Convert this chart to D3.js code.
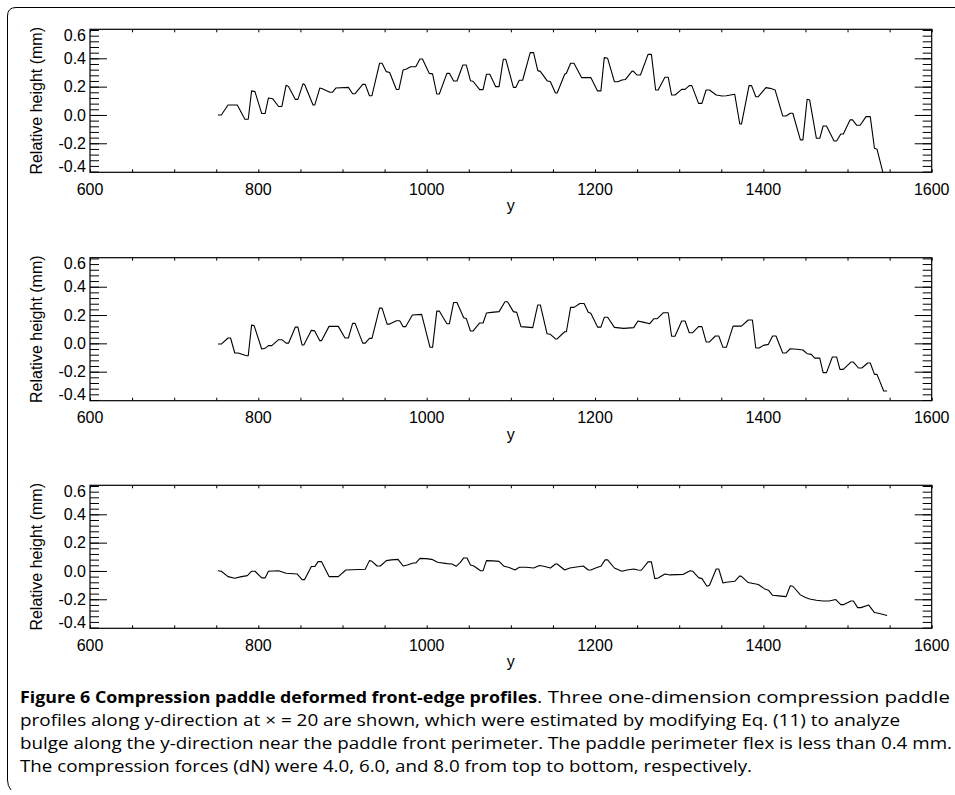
<!DOCTYPE html>
<html>
<head>
<meta charset="utf-8">
<script src="https://cdn.jsdelivr.net/npm/d3@7"></script>
<style>
  body { margin: 0; background: #fff; }
  text { fill: #000; }
</style>
</head>
<body>
<svg id="fig" width="955" height="795"></svg>
<script>
// Profiles: [y position, relative height (mm)]
const profile4dN = [[752,0.000],[756,0.000],[764,0.070],[775,0.070],[784,-0.030],[788,-0.030],[792,0.170],[796,0.165],[804,0.010],[808,0.010],[812,0.120],[817,0.115],[824,0.060],[828,0.060],[833,0.210],[836,0.200],[844,0.110],[847,0.110],[853,0.220],[855,0.215],[865,0.070],[867,0.070],[873,0.190],[876,0.185],[885,0.160],[888,0.160],[892,0.190],[907,0.195],[912,0.150],[915,0.150],[924,0.216],[927,0.216],[932,0.136],[935,0.136],[944,0.365],[947,0.365],[952,0.306],[956,0.300],[964,0.180],[967,0.180],[972,0.318],[976,0.325],[981,0.340],[987,0.340],[992,0.395],[995,0.395],[1003,0.294],[1007,0.290],[1012,0.148],[1015,0.148],[1024,0.294],[1027,0.294],[1032,0.240],[1036,0.240],[1043,0.353],[1047,0.353],[1052,0.242],[1055,0.238],[1063,0.179],[1067,0.179],[1071,0.287],[1075,0.287],[1082,0.200],[1086,0.200],[1091,0.393],[1094,0.393],[1103,0.195],[1106,0.195],[1110,0.245],[1114,0.245],[1123,0.440],[1127,0.440],[1132,0.313],[1135,0.308],[1143,0.242],[1147,0.235],[1153,0.155],[1155,0.155],[1164,0.287],[1166,0.294],[1171,0.365],[1175,0.365],[1184,0.264],[1195,0.264],[1203,0.170],[1207,0.170],[1211,0.405],[1215,0.400],[1223,0.235],[1227,0.235],[1232,0.247],[1236,0.250],[1244,0.310],[1246,0.306],[1250,0.282],[1254,0.282],[1263,0.428],[1267,0.428],[1272,0.176],[1275,0.176],[1283,0.266],[1287,0.266],[1291,0.141],[1295,0.141],[1303,0.181],[1307,0.181],[1312,0.207],[1315,0.207],[1323,0.082],[1327,0.082],[1332,0.176],[1336,0.176],[1344,0.141],[1351,0.134],[1356,0.136],[1366,0.146],[1372,-0.064],[1374,-0.064],[1383,0.207],[1386,0.207],[1391,0.129],[1394,0.129],[1403,0.193],[1408,0.188],[1414,0.176],[1423,-0.007],[1427,-0.007],[1432,0.012],[1435,0.012],[1444,-0.176],[1447,-0.176],[1452,0.111],[1455,0.106],[1463,-0.165],[1467,-0.165],[1471,-0.078],[1475,-0.078],[1484,-0.184],[1487,-0.184],[1492,-0.134],[1495,-0.134],[1503,-0.035],[1506,-0.035],[1511,-0.073],[1515,-0.073],[1522,-0.012],[1527,-0.012],[1532,-0.235],[1535,-0.242],[1542,-0.405],[1547,-0.500]];

const profile6dN = [[752,-0.005],[756,-0.005],[764,0.038],[767,0.038],[772,-0.068],[776,-0.068],[786,-0.087],[788,-0.087],[792,0.129],[795,0.125],[804,-0.040],[808,-0.035],[812,-0.016],[816,-0.016],[824,0.026],[828,0.026],[833,0.002],[836,0.002],[844,0.115],[847,0.115],[852,-0.012],[854,-0.012],[863,0.092],[867,0.088],[873,0.019],[875,0.019],[884,0.120],[895,0.120],[903,0.038],[907,0.038],[912,0.141],[915,0.141],[924,0.002],[927,0.002],[932,0.035],[935,0.035],[944,0.249],[947,0.249],[953,0.136],[956,0.136],[964,0.160],[968,0.160],[972,0.118],[975,0.118],[983,0.200],[994,0.205],[1004,-0.028],[1007,-0.028],[1012,0.228],[1015,0.228],[1024,0.139],[1027,0.139],[1032,0.289],[1036,0.289],[1044,0.181],[1047,0.176],[1052,0.087],[1055,0.087],[1063,0.144],[1067,0.144],[1071,0.214],[1077,0.219],[1086,0.224],[1093,0.294],[1096,0.294],[1103,0.224],[1107,0.219],[1112,0.118],[1126,0.111],[1132,0.271],[1135,0.271],[1143,0.068],[1147,0.064],[1153,0.031],[1155,0.031],[1164,0.082],[1166,0.082],[1171,0.254],[1175,0.254],[1182,0.282],[1187,0.282],[1192,0.219],[1195,0.212],[1203,0.115],[1207,0.115],[1211,0.184],[1215,0.184],[1223,0.113],[1234,0.106],[1246,0.111],[1251,0.158],[1257,0.150],[1265,0.139],[1270,0.174],[1274,0.174],[1281,0.216],[1287,0.216],[1291,0.050],[1295,0.050],[1303,0.158],[1307,0.158],[1312,0.075],[1316,0.075],[1323,0.118],[1327,0.118],[1332,0.010],[1336,0.010],[1343,0.052],[1347,0.052],[1352,-0.028],[1356,-0.028],[1364,0.122],[1374,0.122],[1382,0.165],[1387,0.165],[1391,-0.033],[1395,-0.033],[1400,-0.014],[1406,-0.007],[1411,0.052],[1415,0.052],[1423,-0.068],[1427,-0.068],[1432,-0.038],[1440,-0.042],[1447,-0.047],[1452,-0.073],[1457,-0.078],[1461,-0.104],[1467,-0.104],[1471,-0.207],[1475,-0.207],[1482,-0.096],[1487,-0.096],[1491,-0.184],[1495,-0.184],[1504,-0.132],[1507,-0.132],[1513,-0.174],[1517,-0.174],[1524,-0.139],[1527,-0.139],[1532,-0.219],[1535,-0.219],[1543,-0.337],[1547,-0.337]];

const profile8dN = [[752,0.002],[756,-0.002],[764,-0.040],[772,-0.052],[780,-0.040],[787,-0.033],[792,-0.002],[796,-0.002],[804,-0.049],[808,-0.049],[812,-0.002],[824,0.002],[833,-0.016],[846,-0.021],[852,-0.061],[855,-0.061],[863,0.031],[867,0.031],[871,0.066],[875,0.066],[884,-0.040],[895,-0.040],[904,0.007],[927,0.012],[932,0.073],[935,0.068],[941,0.035],[945,0.035],[952,0.073],[958,0.078],[966,0.082],[972,0.035],[977,0.042],[984,0.056],[987,0.056],[992,0.089],[999,0.087],[1006,0.082],[1013,0.061],[1024,0.052],[1030,0.049],[1035,0.033],[1040,0.061],[1044,0.092],[1048,0.092],[1052,0.042],[1056,0.035],[1064,0.002],[1067,0.002],[1071,0.073],[1079,0.071],[1086,0.068],[1092,0.033],[1098,0.024],[1105,0.007],[1110,0.026],[1118,0.026],[1127,0.021],[1134,0.038],[1139,0.033],[1147,0.021],[1153,0.049],[1155,0.049],[1164,0.007],[1170,0.021],[1178,0.028],[1186,0.035],[1192,0.007],[1195,0.007],[1203,0.026],[1207,0.033],[1212,0.078],[1215,0.078],[1223,0.021],[1232,-0.002],[1238,0.007],[1246,0.014],[1251,0.007],[1255,0.005],[1263,0.064],[1267,0.064],[1271,-0.054],[1275,-0.050],[1283,-0.021],[1289,-0.028],[1297,-0.026],[1305,-0.024],[1313,0.002],[1316,-0.002],[1323,-0.047],[1327,-0.054],[1333,-0.108],[1336,-0.101],[1344,0.014],[1347,0.014],[1352,-0.085],[1356,-0.080],[1366,-0.073],[1372,-0.035],[1374,-0.038],[1382,-0.082],[1388,-0.089],[1394,-0.096],[1401,-0.125],[1406,-0.136],[1411,-0.172],[1418,-0.176],[1427,-0.181],[1432,-0.104],[1435,-0.108],[1444,-0.169],[1450,-0.188],[1455,-0.198],[1463,-0.207],[1471,-0.212],[1478,-0.212],[1486,-0.202],[1492,-0.238],[1495,-0.238],[1504,-0.212],[1507,-0.212],[1512,-0.259],[1516,-0.259],[1525,-0.240],[1532,-0.294],[1538,-0.301],[1547,-0.315]];

const profiles = [profile4dN, profile6dN, profile8dN];

const xDomain = [600, 1600];
const yDomain = [-0.405, 0.605];
const xTickLabels = [600, 800, 1000, 1200, 1400, 1600];
const yTickLabels = [-0.4, -0.2, 0.0, 0.2, 0.4, 0.6];
const xTitle = 'y';
const yTitle = 'Relative height (mm)';

const captionBold = 'Figure 6 Compression paddle deformed front-edge profiles';
const captionLines = [
  '. Three one-dimension compression paddle',
  'profiles along y-direction at \u00d7 = 20 are shown, which were estimated by modifying Eq. (11) to analyze',
  'bulge along the y-direction near the paddle front perimeter. The paddle perimeter flex is less than 0.4 mm.',
  'The compression forces (dN) were 4.0, 6.0, and 8.0 from top to bottom, respectively.'
];

const svg = d3.select('#fig');
const plotLeft = 90, plotRight = 931.7, panelHeight = 143;
const panelTops = [29.3, 257.7, 485.3];
const axisFont = 'Liberation Sans, Arial, Helvetica, sans-serif';
const fmt = d3.formatLocale({decimal: '.', thousands: ',', grouping: [3],
  currency: ['', ''], minus: '-'}).format('.1f');

const x = d3.scaleLinear().domain(xDomain).range([plotLeft, plotRight]);
const line = d3.line().x(d => x(d[0]));

// Outer figure frame (top + left edge with a rounded corner)
svg.append('path')
  .attr('d', 'M955,7.5 H16 Q7.5,7.5 7.5,16 V780 Q7.5,786 11,790')
  .attr('fill', 'none')
  .attr('stroke', '#000')
  .attr('stroke-width', 1);

profiles.forEach((data, i) => {
  const top = panelTops[i], bottom = top + panelHeight;
  const y = d3.scaleLinear().domain(yDomain).range([bottom, top]);
  const g = svg.append('g')
    .attr('font-family', axisFont)
    .attr('font-size', 16);

  // clip for the profile line
  svg.append('clipPath').attr('id', `clip${i}`)
    .append('rect')
      .attr('x', plotLeft).attr('y', top)
      .attr('width', plotRight - plotLeft).attr('height', panelHeight);

  // Y axis - major and minor ticks, left and right (pointing inward)
  const yMinor = d3.range(-0.4, 0.6001, 0.04);
  [[d3.axisLeft, plotLeft], [d3.axisRight, plotRight]].forEach(([ax, pos]) => {
    g.append('g')
      .attr('transform', `translate(${pos},0)`)
      .call(ax(y).tickValues(yMinor).tickSize(-9).tickFormat(''))
      .call(a => a.select('.domain').remove());
    g.append('g')
      .attr('transform', `translate(${pos},0)`)
      .call(ax(y).tickValues(yTickLabels.slice(1, -1)).tickSize(-17).tickFormat(''))
      .call(a => a.select('.domain').remove());
  });

  // X axis ticks every 50, bottom and top
  const xMinor = d3.range(600, 1601, 50);
  g.append('g')
    .attr('transform', `translate(0,${bottom})`)
    .call(d3.axisBottom(x).tickValues(xMinor).tickSize(-3).tickFormat(''))
    .call(a => a.select('.domain').remove());
  g.append('g')
    .attr('transform', `translate(0,${top})`)
    .call(d3.axisTop(x).tickValues(xMinor).tickSize(-3).tickFormat(''))
    .call(a => a.select('.domain').remove());
  g.selectAll('.tick line').attr('stroke', '#000').attr('stroke-width', 1);

  // Plot box
  g.append('rect')
    .attr('x', plotLeft).attr('y', top)
    .attr('width', plotRight - plotLeft).attr('height', panelHeight)
    .attr('fill', 'none').attr('stroke', '#000').attr('stroke-width', 1.2);

  // Y tick labels (end labels kept inside the box)
  g.selectAll('text.ylab')
    .data(yTickLabels)
    .join('text')
      .attr('class', 'ylab')
      .attr('x', plotLeft - 4)
      .attr('y', d => Math.min(Math.max(y(d), top + 6), bottom - 6))
      .attr('dy', '0.36em')
      .attr('text-anchor', 'end')
      .text(d => fmt(d));

  // X tick labels
  g.selectAll('text.xlab')
    .data(xTickLabels)
    .join('text')
      .attr('class', 'xlab')
      .attr('x', d => x(d))
      .attr('y', bottom + 22.5)
      .attr('text-anchor', 'middle')
      .text(d => d);

  // Axis titles
  g.append('text')
    .attr('x', (plotLeft + plotRight) / 2)
    .attr('y', bottom + 39)
    .attr('text-anchor', 'middle')
    .text(xTitle);

  g.append('text')
    .attr('transform', `translate(42,${(top + bottom) / 2}) rotate(-90)`)
    .attr('text-anchor', 'middle')
    .text(yTitle);

  // Profile line
  svg.append('path')
    .datum(data)
    .attr('clip-path', `url(#clip${i})`)
    .attr('d', line.y(d => y(d[1])))
    .attr('fill', 'none')
    .attr('stroke', '#000')
    .attr('stroke-width', 1.1)
    .attr('stroke-linejoin', 'round');
});

// Caption (ragged right, widths fitted to the reference)
const cap = svg.append('g')
  .attr('font-family', 'Open Sans, Noto Sans, sans-serif')
  .attr('font-size', 16);
const capBase = [703, 726, 749, 772];
const capStart = [537, 20, 20, 20];
const capEnd = [950, 900, 952, 752];

cap.append('text')
  .attr('x', 20).attr('y', capBase[0])
  .attr('font-weight', 'bold')
  .attr('textLength', capStart[0] - 20)
  .attr('lengthAdjust', 'spacingAndGlyphs')
  .text(captionBold);

captionLines.forEach((t, i) => {
  cap.append('text')
    .attr('x', capStart[i])
    .attr('y', capBase[i])
    .attr('textLength', capEnd[i] - capStart[i])
    .attr('lengthAdjust', 'spacingAndGlyphs')
    .text(t);
});
</script>
</body>
</html>
